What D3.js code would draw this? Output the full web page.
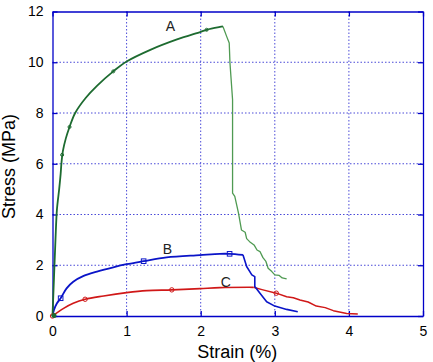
<!DOCTYPE html>
<html>
<head>
<meta charset="utf-8">
<script src="https://cdn.jsdelivr.net/npm/d3@7"></script>
<style>
  body { margin: 0; background: #fff; }
  text { font-family: "Liberation Sans", Arial, sans-serif; }
</style>
</head>
<body>
<div id="chart"></div>
<script>
    // Curve A (green), rising part and brittle drop
    const curveA = [
      [0, 0], [0.02, 1.5], [0.04, 3.0], [0.06, 4.2], [0.09, 5.0], [0.11, 5.6],
      [0.12, 6.0], [0.14, 6.5], [0.18, 7.0], [0.23, 7.45], [0.306, 8.0], [0.45, 8.6],
      [0.6, 9.07], [0.82, 9.64], [1.0, 10.03], [1.32, 10.49], [1.68, 10.9], [2.0, 11.2],
      [2.08, 11.28], [2.26, 11.39], [2.30, 11.41]
    ];
    const curveAFall = [
      [2.30, 11.41], [2.35, 11.02], [2.385, 10.76], [2.395, 9.97], [2.43, 8.52],
      [2.43, 5.37], [2.43, 4.84], [2.46, 4.71], [2.51, 4.05], [2.55, 3.39],
      [2.6, 3.3], [2.62, 3.05], [2.66, 2.93], [2.72, 2.8], [2.76, 2.6], [2.80, 2.54],
      [2.84, 2.3], [2.88, 2.15], [2.91, 1.88], [2.96, 1.75], [3.0, 1.62], [3.06, 1.6],
      [3.1, 1.5], [3.16, 1.46]
    ];
    // Curve B (blue)
    const curveB = [
      [0, 0], [0.02, 0.24], [0.06, 0.5], [0.11, 0.7], [0.19, 1.09], [0.28, 1.35],
      [0.42, 1.58], [0.6, 1.75], [0.82, 1.92], [1.0, 2.04], [1.23, 2.16], [1.54, 2.31],
      [1.99, 2.4], [2.26, 2.45], [2.39, 2.45], [2.57, 2.41]
    ];
    const curveBFall = [
      [2.57, 2.41], [2.62, 1.95], [2.69, 1.62], [2.73, 1.55], [2.73, 1.16], [2.8, 0.9],
      [2.89, 0.56], [3.0, 0.39], [3.16, 0.26], [3.31, 0.17]
    ];
    // Curve C (red)
    const curveC = [
      [0, 0], [0.15, 0.3], [0.28, 0.5], [0.44, 0.66], [0.69, 0.79], [1.0, 0.92],
      [1.27, 1.0], [1.61, 1.03], [1.99, 1.08], [2.26, 1.12], [2.71, 1.13]
    ];
    const curveCFall = [
      [2.71, 1.13], [2.84, 1.03], [3.02, 0.9], [3.16, 0.76], [3.25, 0.72], [3.34, 0.63],
      [3.45, 0.55], [3.56, 0.39], [3.68, 0.33], [3.79, 0.21], [3.97, 0.1], [4.12, 0.08]
    ];
    const markersA = [[0.13, 6.35], [0.23, 7.45], [0.82, 9.64], [2.08, 11.28]];
    const markersB = [[0.11, 0.7], [1.23, 2.16], [2.39, 2.45]];
    const markersC = [[0, 0], [0.44, 0.66], [1.61, 1.03], [3.02, 0.9]];
    const labels = [
      { text: "A", x: 1.59, y: 11.25 },
      { text: "B", x: 1.55, y: 2.45 },
      { text: "C", x: 2.34, y: 1.15 }
    ];
    const xTicks = [0, 1, 2, 3, 4, 5];
    const yTicks = [0, 2, 4, 6, 8, 10, 12];

    const W = 433, H = 362;
    const margin = { top: 11.5, right: 10, bottom: 46, left: 52.5 };
    const width = W - margin.left - margin.right;
    const height = H - margin.top - margin.bottom;

    const svg = d3.select("#chart").append("svg")
        .attr("width", W)
        .attr("height", H)
      .append("g")
        .attr("transform", `translate(${margin.left},${margin.top})`);

    const x = d3.scaleLinear().domain([0, 5]).range([0, width]);
    const y = d3.scaleLinear().domain([0, 12]).range([height, 0]);

    const gridColor = "#4a4ad8";
    const frameColor = "#0000c8";

    // Dotted grid
    svg.append("g")
      .selectAll("line")
      .data(xTicks.slice(1, -1))
      .enter().append("line")
        .attr("x1", d => x(d)).attr("x2", d => x(d))
        .attr("y1", 0).attr("y2", height)
        .attr("stroke", gridColor)
        .attr("stroke-width", 1)
        .attr("stroke-dasharray", "1.5,2");
    svg.append("g")
      .selectAll("line")
      .data(yTicks.slice(1, -1))
      .enter().append("line")
        .attr("x1", 0).attr("x2", width)
        .attr("y1", d => y(d)).attr("y2", d => y(d))
        .attr("stroke", gridColor)
        .attr("stroke-width", 1)
        .attr("stroke-dasharray", "1.5,2");

    // Axes (inward ticks on all four sides)
    svg.append("g")
      .attr("transform", `translate(0,${height})`)
      .call(d3.axisBottom(x).tickValues(xTicks).tickFormat(d3.format("d"))
        .tickSizeInner(-5).tickSizeOuter(0).tickPadding(10));
    svg.append("g")
      .call(d3.axisLeft(y).tickValues(yTicks).tickFormat(d3.format("d"))
        .tickSizeInner(-5).tickSizeOuter(0).tickPadding(9));
    svg.append("g")
      .call(d3.axisTop(x).tickValues(xTicks).tickSizeInner(-5).tickSizeOuter(0).tickFormat(""));
    svg.append("g")
      .attr("transform", `translate(${width},0)`)
      .call(d3.axisRight(y).tickValues(yTicks).tickSizeInner(-5).tickSizeOuter(0).tickFormat(""));

    svg.selectAll(".domain").attr("stroke", frameColor).attr("stroke-width", 1.3);
    svg.selectAll(".tick line").attr("stroke", frameColor).attr("stroke-width", 1.3);
    svg.selectAll(".tick text").attr("fill", "#000").style("font-size", "14px")
      .style("font-family", "'Liberation Sans', Arial, sans-serif");

    // Curves
    const smooth = d3.line().x(d => x(d[0])).y(d => y(d[1])).curve(d3.curveCatmullRom.alpha(0.5));
    const straight = d3.line().x(d => x(d[0])).y(d => y(d[1]));
    const curves = [
      { data: curveAFall, color: "#4f9a52", w: 1.3, gen: straight },
      { data: curveCFall, color: "#d01818", w: 1.5, gen: straight },
      { data: curveC, color: "#d01818", w: 1.6, gen: smooth },
      { data: curveBFall, color: "#0a14c8", w: 1.6, gen: straight },
      { data: curveB, color: "#0a14c8", w: 1.8, gen: smooth },
      { data: curveA, color: "#1d6b30", w: 1.8, gen: smooth }
    ];
    svg.selectAll(".curve")
      .data(curves)
      .enter().append("path")
        .attr("class", "curve")
        .attr("d", d => d.gen(d.data))
        .attr("fill", "none")
        .attr("stroke", d => d.color)
        .attr("stroke-width", d => d.w)
        .attr("stroke-linejoin", "round");

    // Markers
    svg.selectAll(".mA").data(markersA).enter().append("circle")
      .attr("cx", d => x(d[0])).attr("cy", d => y(d[1])).attr("r", 1.5)
      .attr("fill", "none").attr("stroke", "#1d6b30").attr("stroke-width", 1);
    svg.selectAll(".mB").data(markersB).enter().append("rect")
      .attr("x", d => x(d[0]) - 2.3).attr("y", d => y(d[1]) - 2.3)
      .attr("width", 4.6).attr("height", 4.6)
      .attr("fill", "none").attr("stroke", "#0a14c8").attr("stroke-width", 1);
    svg.selectAll(".mC").data(markersC).enter().append("circle")
      .attr("cx", d => x(d[0])).attr("cy", d => y(d[1])).attr("r", 2.2)
      .attr("fill", "none").attr("stroke", "#d01818").attr("stroke-width", 1);
    svg.append("circle")
      .attr("cx", x(0.02)).attr("cy", y(0.02)).attr("r", 2.5)
      .attr("fill", "#1d6b30");

    // Curve labels
    svg.selectAll(".lab").data(labels).enter().append("text")
      .attr("x", d => x(d.x)).attr("y", d => y(d.y))
      .attr("text-anchor", "middle")
      .style("font-size", "14px")
      .attr("fill", "#222")
      .text(d => d.text);

    // Axis titles
    svg.append("text")
      .attr("x", x(2.5) - 0.5)
      .attr("y", height + 42)
      .attr("text-anchor", "middle")
      .style("font-size", "18px")
      .text("Strain (%)");
    svg.append("text")
      .attr("transform", "rotate(-90)")
      .attr("x", -(166.5 - margin.top))
      .attr("y", -38)
      .attr("text-anchor", "middle")
      .style("font-size", "18px")
      .text("Stress (MPa)");
</script>
</body>
</html>
